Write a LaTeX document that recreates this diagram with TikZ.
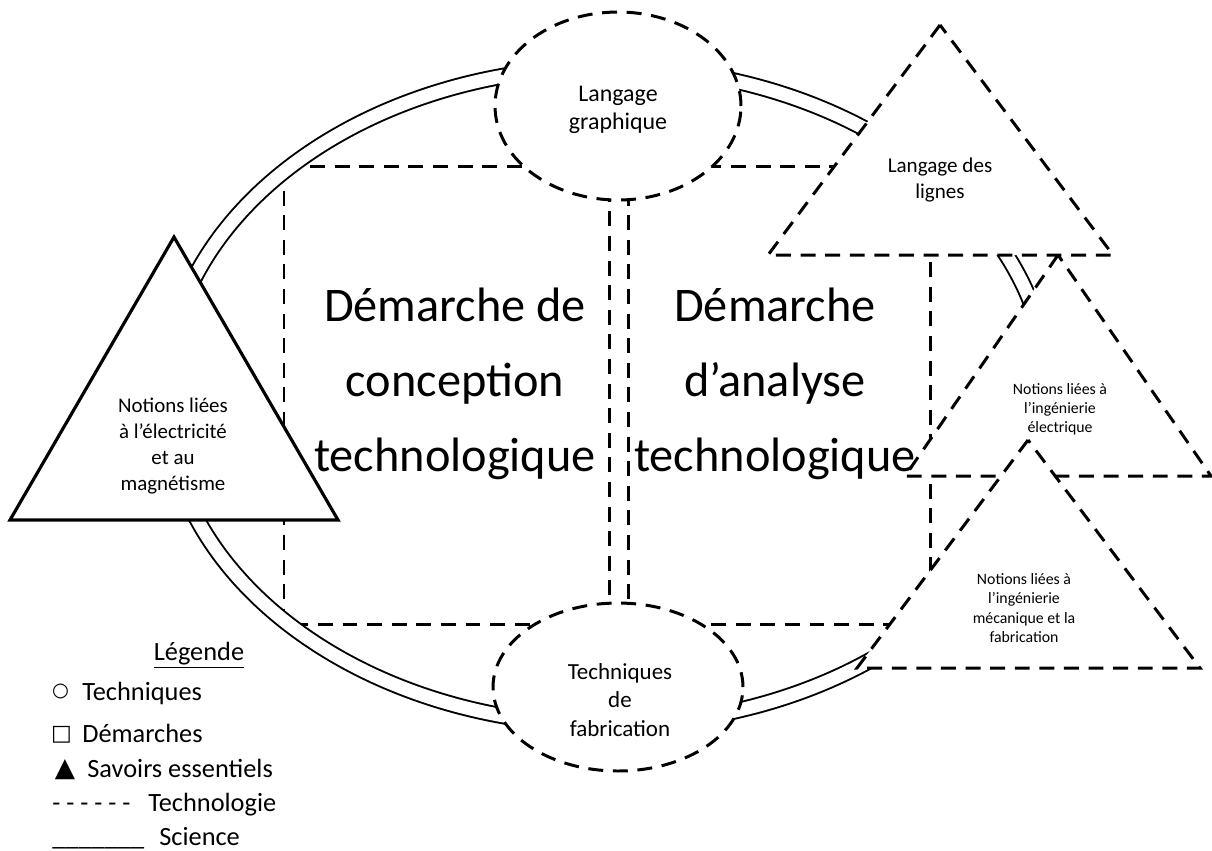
\documentclass[tikz,border=0pt]{standalone}
\usepackage{fontspec}
\setmainfont{Carlito}
\newfontfamily\symfont{DejaVu Sans}
\usetikzlibrary{shapes.geometric}
\begin{document}
\begin{tikzpicture}[x=0.02cm,y=-0.02cm,
  tech/.style={line width=1.7pt, dash pattern=on 8.5pt off 5.5pt},
  sci/.style={line width=1.8pt},
  band/.style={line width=1.1pt, double=white, double distance=7.4pt},
  ell/.style={ellipse, draw, tech, fill=white, inner sep=0pt},
  fs/.style 2 args={font=\fontsize{#1}{#2}\selectfont},
  txt/.style={align=center, inner sep=0pt},
  leg/.style={inner sep=0pt, font=\fontsize{15}{18}\selectfont}
]
\useasboundingbox (0,0) rectangle (1212,850);

% rectangles (demarches)
\coordinate (R1a) at (284,166);
\coordinate (R1b) at (609,624);
\coordinate (R2a) at (628,166);
\coordinate (R2b) at (930,624);
\draw[tech] (R1a) rectangle (R1b);
\draw[tech] (R2a) rectangle (R2b);

% science band
\coordinate (C) at (607,396);
\draw[band] (C) ellipse [x radius=442, y radius=329];

% techniques (ellipses)
\node[ell, minimum width=4.92cm, minimum height=3.76cm] (lg) at (618,106) {};
\node[ell, minimum width=5.0cm, minimum height=3.36cm] (tf) at (618,687) {};

% savoirs (triangles)
\coordinate (T1a) at (940,25);
\coordinate (T1b) at (768,255);
\coordinate (T1c) at (1113,255);
\draw[tech, fill=white] (T1a) -- (T1b) -- (T1c) -- cycle;
\coordinate (T2a) at (1058,255);
\coordinate (T2b) at (905,476);
\coordinate (T2c) at (1211,476);
\draw[tech, fill=white] (T2a) -- (T2b) -- (T2c) -- cycle;
\coordinate (T3a) at (1028,440);
\coordinate (T3b) at (857,668);
\coordinate (T3c) at (1200,668);
\draw[tech, fill=white] (T3a) -- (T3b) -- (T3c) -- cycle;
\coordinate (T4a) at (174,237);
\coordinate (T4b) at (10,520);
\coordinate (T4c) at (338,520);
\draw[sci, fill=white, line join=miter] (T4a) -- (T4b) -- (T4c) -- cycle;

% texts
\node[txt, fs={13.6}{15.9}] (lgt) at (618,110) {Langage\\graphique};
\node[txt, fs={13.1}{16.2}] (tft) at (620,700) {Techniques\\de\\fabrication};
\node[txt, fs={12}{14.5}] (t1t) at (940,180) {Langage des\\lignes};
\node[txt, fs={9}{10.9}] (t2t) at (1060,409) {Notions liées à\\l’ingénierie\\électrique};
\node[txt, fs={9}{10.9}] (t3t) at (1024,608) {Notions liées à\\l’ingénierie\\mécanique et la\\fabrication};
\node[txt, fs={11.9}{14.7}] (t4t) at (173,446) {Notions liées\\à l’électricité\\et au\\magnétisme};

\node[txt, fs={27.5}{42.5}] (dc) at (455,384) {Démarche de\\conception\\technologique};
\node[txt, fs={27.5}{42.5}] (da) at (775,384) {Démarche\\d’analyse\\technologique};

% legend
\node[leg, anchor=base] (lgd) at (199,660) {\underline{Légende}};
\node[inner sep=0pt, font=\symfont\fontsize{11}{11}\selectfont] (s1) at (60.5,691) {○};
\node[leg, anchor=base west] (l1) at (82,700) {Techniques};
\node[inner sep=0pt, font=\symfont\fontsize{12.5}{12.5}\selectfont] (s2) at (61.5,734.5) {□};
\node[leg, anchor=base west] (l2) at (82,742) {Démarches};
\node[inner sep=0pt, font=\symfont\fontsize{15}{15}\selectfont] (s3) at (65,770) {▲};
\node[leg, anchor=base west] (l3) at (87,777) {Savoirs essentiels};
\node[leg, anchor=base west] (s4) at (52,811) {- - - - - -};
\node[leg, anchor=base west] (l4) at (148,811) {Technologie};
\node[leg, anchor=base west] (s5) at (52,845) {\_\_\_\_\_\_\_};
\node[leg, anchor=base west] (l5) at (159,845) {Science};
\end{tikzpicture}
\end{document}
